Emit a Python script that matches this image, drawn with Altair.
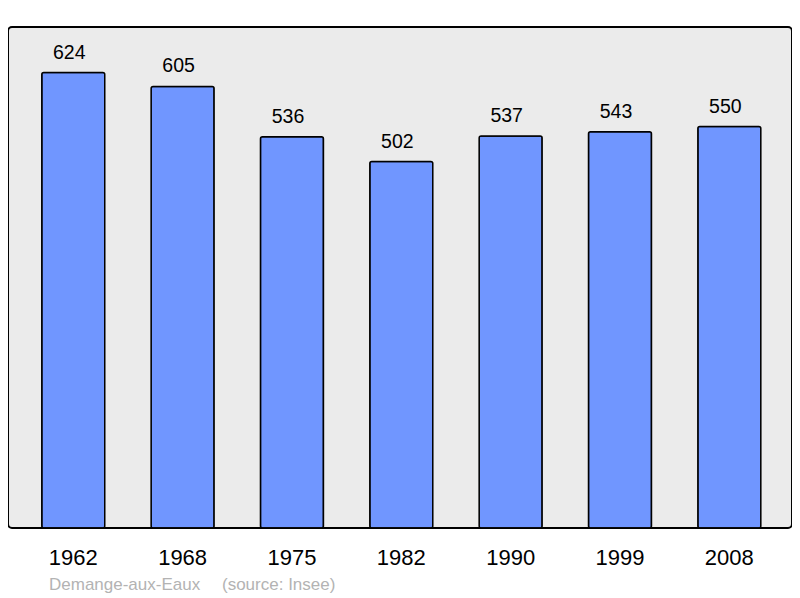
import altair as alt
import pandas as pd

years = ["1962", "1968", "1975", "1982", "1990", "1999", "2008"]
population = [624, 605, 536, 502, 537, 543, 550]
footer_place = ["Demange-aux-Eaux"]
footer_source = ["(source: Insee)"]

df = pd.DataFrame({"year": years, "pop": population})

FONT = "Liberation Sans"

x = alt.X("year:N", sort=years,
          scale=alt.Scale(paddingInner=0.424, paddingOuter=0.297, align=0.52),
          axis=alt.Axis(title=None, domain=False, ticks=False, tickSize=0,
                        labelFontSize=22, labelColor="black", labelFont=FONT,
                        labelBaseline="alphabetic", labelPadding=36, labelAngle=0))
y = alt.Y("pop:Q", scale=alt.Scale(domain=[0, 686.4], nice=False, zero=True),
          axis=None)

base = alt.Chart(df)

bars = base.mark_bar(color="#7096ff", stroke="black", strokeWidth=1.5,
                     cornerRadius=2).encode(x=x, y=y)

labels = base.mark_text(fontSize=19.5, font=FONT, color="black",
                        baseline="alphabetic", dy=-14, dx=-4).encode(
    x=alt.X("year:N", sort=years), y="pop:Q", text="pop:Q")

foot1 = alt.Chart(pd.DataFrame({"t": footer_place})).mark_text(
    fontSize=17, font=FONT, color="#b3b3b3", align="left", baseline="alphabetic"
).encode(x=alt.value(41), y=alt.value(563), text="t:N")

foot2 = alt.Chart(pd.DataFrame({"t": footer_source})).mark_text(
    fontSize=17, font=FONT, color="#b3b3b3", align="left", baseline="alphabetic"
).encode(x=alt.value(214), y=alt.value(563), text="t:N")

chart = alt.layer(bars, labels, foot1, foot2).properties(
    width=784, height=501,
    autosize=alt.AutoSizeParams(type="none"),
    padding={"left": 0, "top": 19, "right": 0, "bottom": 70},
).configure_view(
    fill="#ebebeb", stroke="black", strokeWidth=2, cornerRadius=4
)

chart.save("out.html", embed_options={"renderer": "svg", "actions": False})
